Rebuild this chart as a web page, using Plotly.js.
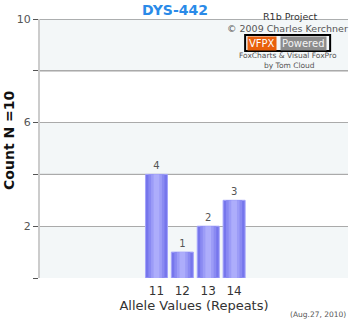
<!DOCTYPE html>
<html><head><meta charset="utf-8">
<script src="https://cdn.plot.ly/plotly-3.0.1.min.js"></script>
<style>body{margin:0;padding:0;background:#fff}#chart{width:350px;height:320px}</style>
</head><body><div id="chart"></div>
<script>
const alleles = [11, 12, 13, 14];
const counts = [4, 1, 2, 3];
const yTickVals = [0, 2, 4, 6, 8, 10];
const yTickText = ['', '2', '', '6', '', '10'];
const bandStarts = [0, 4, 8];
const darkLines = [4, 8, 10];

const shapes = [];
bandStarts.forEach(b => shapes.push({type:'rect', xref:'paper', yref:'y', x0:0, x1:1, y0:b, y1:b+2, fillcolor:'#f3f7f8', line:{width:0}, layer:'below'}));
darkLines.forEach(v => shapes.push({type:'line', xref:'paper', yref:'y', x0:0, x1:1, y0:v, y1:v, line:{color:'#666', width:1}, layer:'between'}));
shapes.push({type:'rect', xref:'paper', yref:'paper', x0:0.666, x1:0.942, y0:0.876, y1:0.938, line:{color:'#000', width:2}, fillcolor:'rgba(0,0,0,0)', layer:'above'});

const shades = [
  {w:0.85, c:'#7676ec', line:{color:'#a4a4fb', width:1}},
  {w:0.62, c:'#8a8af2', line:{width:0}},
  {w:0.42, c:'#9c9cf7', line:{width:0}},
  {w:0.22, c:'#adadfb', line:{width:0}}
];
const traces = shades.map((s, i) => ({
  type:'bar', x:alleles, y:counts, width:s.w,
  marker:{color:s.c, line:s.line},
  text: i === 0 ? counts.map(String) : undefined,
  textposition: i === 0 ? 'outside' : 'none',
  cliponaxis:false, hoverinfo:'skip',
  textfont:{family:'DejaVu Sans', size:10, color:'#555'}
}));

const layout = {
  width:350, height:320,
  margin:{l:40, r:2, t:19, b:42},
  paper_bgcolor:'#fff', plot_bgcolor:'#fff',
  font:{family:'DejaVu Sans', color:'#333'},
  showlegend:false, barmode:'overlay',
  title:{text:'<b>DYS-442</b>', font:{family:'DejaVu Sans', size:14, color:'#2a8ae8'}, x:0.5, xanchor:'center', y:0.968, yanchor:'middle'},
  xaxis:{range:[6.5, 18.4], tickvals:alleles, ticktext:alleles.map(String), showgrid:false, zeroline:false, showline:false, ticks:'', tickfont:{size:12, color:'#333'}, ticklabelstandoff:4,
    title:{text:'Allele Values (Repeats)', font:{size:13, color:'#333'}, standoff:2}},
  yaxis:{range:[0,10], tickvals:yTickVals, ticktext:yTickText, showgrid:true, gridcolor:'#aaa', gridwidth:1, zeroline:false, showline:true, linecolor:'#ccc', linewidth:2,
    ticks:'outside', ticklen:5, tickcolor:'#555', tickfont:{size:11, color:'#555'}},
  shapes:shapes,
  annotations:[
    {xref:'paper', yref:'paper', x:-0.1, y:0.53, text:'<b>Count N =10</b>', textangle:-90, showarrow:false, font:{size:14, color:'#111'}, xanchor:'center', yanchor:'middle'},
    {xref:'paper', yref:'paper', x:0.812, y:1.008, text:'R1b Project', showarrow:false, font:{size:9.5, color:'#333'}, xanchor:'center', yanchor:'middle'},
    {xref:'paper', yref:'paper', x:0.805, y:0.965, text:'© 2009 Charles Kerchner', showarrow:false, font:{size:9.5, color:'#555'}, xanchor:'center', yanchor:'middle'},
    {xref:'paper', yref:'paper', x:0.721, y:0.907, text:'VFPX', showarrow:false, font:{size:10, color:'#fff'}, bgcolor:'#e8600c', borderpad:1, xanchor:'center', yanchor:'middle'},
    {xref:'paper', yref:'paper', x:0.856, y:0.907, text:'Powered', showarrow:false, font:{size:10, color:'#f4f4f4'}, bgcolor:'#8c8c8c', borderpad:1, xanchor:'center', yanchor:'middle'},
    {xref:'paper', yref:'paper', x:0.805, y:0.861, text:'FoxCharts & Visual FoxPro', showarrow:false, font:{size:7.5, color:'#555'}, xanchor:'center', yanchor:'middle'},
    {xref:'paper', yref:'paper', x:0.81, y:0.822, text:'by Tom Cloud', showarrow:false, font:{size:7.5, color:'#555'}, xanchor:'center', yanchor:'middle'},
    {xref:'paper', yref:'paper', x:1, y:-0.139, text:'(Aug.27, 2010)', showarrow:false, font:{size:7.5, color:'#555'}, xanchor:'right', yanchor:'middle'}
  ]
};

Plotly.newPlot('chart', traces, layout, {displayModeBar:false, staticPlot:true});
</script></body></html>
